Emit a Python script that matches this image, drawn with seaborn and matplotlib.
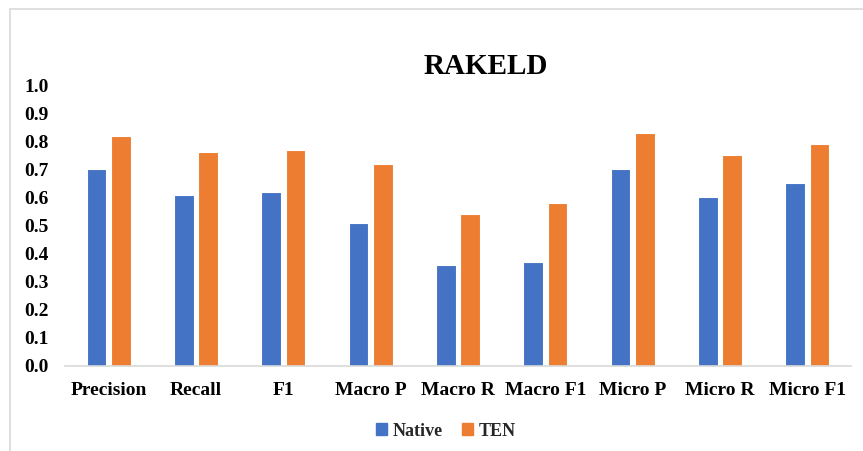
import matplotlib
matplotlib.use("Agg")
import matplotlib.pyplot as plt
from matplotlib.lines import Line2D
import seaborn as sns
import pandas as pd

metrics = ["Precision", "Recall", "F1", "Macro P", "Macro R",
           "Macro F1", "Micro P", "Micro R", "Micro F1"]
native = [0.70, 0.61, 0.62, 0.51, 0.36, 0.37, 0.70, 0.60, 0.65]
ten = [0.82, 0.76, 0.77, 0.72, 0.54, 0.58, 0.83, 0.75, 0.79]
series = ["Native", "TEN"]
colors = ["#4472C4", "#ED7D31"]
yticks = [0.0, 0.1, 0.2, 0.3, 0.4, 0.5, 0.6, 0.7, 0.8, 0.9, 1.0]

df = pd.DataFrame({
    "metric": metrics * 2,
    "model": [series[0]] * len(metrics) + [series[1]] * len(metrics),
    "score": native + ten,
})

sns.set_theme(style="white")
plt.rcParams["font.family"] = ["Liberation Serif", "DejaVu Serif"]
plt.rcParams["font.weight"] = "bold"

W, H = 863, 451
fig = plt.figure(figsize=(W / 100, H / 100), dpi=100)
fig.patch.set_facecolor("white")
ax = fig.add_axes([65 / W, 1 - 366 / H, (851 - 65) / W, (366 - 85) / H])

sns.barplot(data=df, x="metric", y="score", hue="model", order=metrics,
            hue_order=series, palette=colors, saturation=1, width=0.56,
            gap=0.2, edgecolor="white", linewidth=0.8, ax=ax)

ax.set_ylim(0, 1.0)
ax.set_xlim(-0.5, len(metrics) - 0.5)
ax.set_yticks(yticks)
ax.set_yticklabels([f"{v:.1f}" for v in yticks])
ax.set_xlabel("")
ax.set_ylabel("")
for s in ["top", "right", "left"]:
    ax.spines[s].set_visible(False)
ax.spines["bottom"].set_color("#D9D9D9")
ax.spines["bottom"].set_linewidth(1.2)
ax.tick_params(axis="both", length=0, labelsize=14, colors="black")
ax.tick_params(axis="y", pad=12)
ax.tick_params(axis="x", pad=11.5)
for lbl in ax.get_xticklabels() + ax.get_yticklabels():
    lbl.set_fontweight("bold")
ax.set_facecolor("none")
ax.grid(False)

ax.get_legend().remove()
handles = [plt.Rectangle((0, 0), 1, 1, color=c) for c in colors]
fig.legend(handles, series, loc="center", bbox_to_anchor=(446 / W, 1 - 431 / H),
           ncol=2, frameon=False, handlelength=0.6, handleheight=0.6,
           handletextpad=0.3, columnspacing=1.1,
           prop={"family": "Liberation Serif", "weight": "bold", "size": 13})

fig.text(486 / W, 1 - 67 / H, "RAKELD", ha="center", va="center",
         fontsize=21, fontweight="bold", color="black")

# chart-area frame
fig.add_artist(Line2D([10 / W, 1.0], [1 - 9 / H, 1 - 9 / H],
                      transform=fig.transFigure, color="#D9D9D9", lw=1.2))
fig.add_artist(Line2D([10 / W, 10 / W], [0.0, 1 - 9 / H],
                      transform=fig.transFigure, color="#D9D9D9", lw=1.2))

fig.savefig("out.png", dpi=100, facecolor="white")
